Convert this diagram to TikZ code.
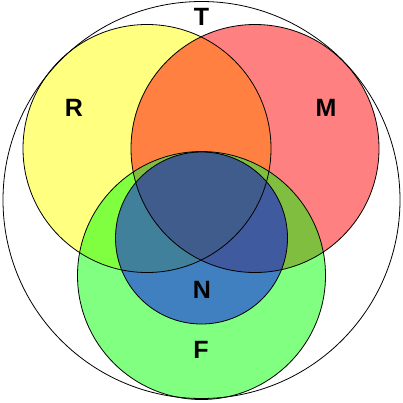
\documentclass[tikz,border=0pt]{standalone}
\usepackage{fontspec}
\setmainfont{Liberation Sans}
\usepackage{xcolor}

\definecolor{rcol}{RGB}{255,255,128}
\definecolor{mcol}{RGB}{255,128,128}
\definecolor{fcol}{RGB}{128,255,128}
\definecolor{rmcol}{RGB}{255,128,64}
\definecolor{rfcol}{RGB}{128,255,64}
\definecolor{mfcol}{RGB}{128,190,64}
\definecolor{ncol}{RGB}{64,128,192}
\definecolor{nrcol}{RGB}{64,128,154}
\definecolor{nmcol}{RGB}{64,90,160}
\definecolor{nrmcol}{RGB}{64,92,140}

\begin{document}
\begin{tikzpicture}[x=1pt,y=-1pt,
  setlabel/.style={font=\fontsize{25}{30}\selectfont\bfseries}]

% Parameters for drawing only
\def\rbig{124pt}
\def\rn{86pt}
\def\rt{198.5pt}

\useasboundingbox (0,0) rectangle (403,402);

% Centres
\coordinate (T) at (201.5,200);
\coordinate (R) at (147,148.5);
\coordinate (M) at (255,148.5);
\coordinate (F) at (201.5,275.5);
\coordinate (N) at (201.5,238);

% Single sets
\fill[rcol] (R) circle (\rbig);
\fill[mcol] (M) circle (\rbig);
\fill[fcol] (F) circle (\rbig);

% Pairwise overlaps
\begin{scope}
  \clip (R) circle (\rbig);
  \fill[rmcol] (M) circle (\rbig);
  \fill[rfcol] (F) circle (\rbig);
\end{scope}
\begin{scope}
  \clip (M) circle (\rbig);
  \fill[mfcol] (F) circle (\rbig);
\end{scope}

% Set N and its overlaps
\fill[ncol] (N) circle (\rn);
\begin{scope}
  \clip (N) circle (\rn);
  \fill[nrcol] (R) circle (\rbig);
  \fill[nmcol] (M) circle (\rbig);
  \clip (R) circle (\rbig);
  \fill[nrmcol] (M) circle (\rbig);
\end{scope}

% Outlines
\draw[line width=0.8pt] (T) circle (\rt);
\draw[line width=0.8pt] (R) circle (\rbig);
\draw[line width=0.8pt] (M) circle (\rbig);
\draw[line width=0.8pt] (F) circle (\rbig);
\draw[line width=0.8pt] (N) circle (\rn);

% Labels
\node[setlabel] (tlabel) at (201.5,17) {T};
\node[setlabel] (rlabel) at (74,108) {R};
\node[setlabel] (mlabel) at (326,108) {M};
\node[setlabel] (nlabel) at (202,290) {N};
\node[setlabel] (flabel) at (201,350) {F};

\end{tikzpicture}
\end{document}
